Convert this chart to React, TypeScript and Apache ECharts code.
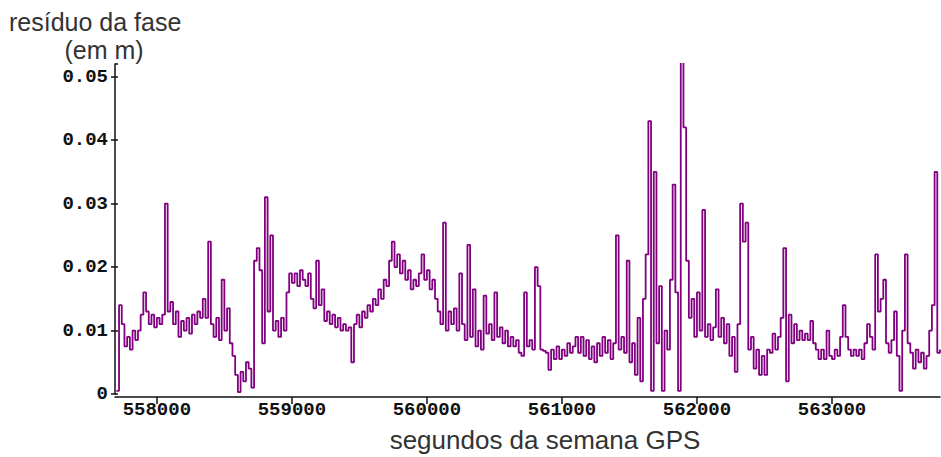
import React, { useEffect, useRef } from "react";
import * as echarts from "echarts";

// GPS seconds of week: first epoch and sampling step (s)
const startEpoch = 557700;
const epochStep = 20;

// phase residual, in millimetres, one value per epoch
const residualMm: number[] = [
  0.5, 14, 11, 7.5, 9, 7, 10, 8.5, 10, 12.5,
  16, 13, 11, 12.5, 10.5, 12, 11, 12.5, 30, 13,
  14.5, 11, 13, 9, 11.5, 10, 12, 9.5, 12.5, 11,
  13, 12, 15, 12, 24, 11, 9, 12, 8.5, 18,
  10, 13.5, 8, 6, 3, 0.3, 3.5, 2, 5, 4,
  1, 21, 23, 19.5, 8, 31, 13, 25, 10, 11.5,
  9, 12, 10, 16, 19, 17.5, 19, 17, 19.5, 18,
  17, 19, 15, 13.5, 21, 14, 16.5, 11.5, 13, 11,
  12.5, 10.5, 12, 10, 11, 10, 10.5, 5, 11, 12.5,
  10.5, 13, 12, 14, 13, 15, 14, 16.5, 15, 18,
  17, 21, 24, 20, 22, 19, 21, 18, 19.5, 16.5,
  18, 17, 19, 22, 18, 19.5, 16.5, 18, 15, 13,
  11, 27, 10, 13, 11, 13.5, 10, 19, 11, 8.5,
  23.5, 9, 16.5, 7.5, 10, 7, 15.5, 9.5, 11, 8.5,
  16, 9, 10.5, 8, 10, 7.5, 9, 7.5, 8.5, 6.5,
  6, 16, 7.5, 8.5, 7, 20, 17, 7, 6.8, 6.5,
  3.8, 7, 5.5, 7.5, 5.5, 7, 6, 8, 6.5, 7.5,
  9, 6.5, 9, 6, 8.5, 5.5, 7.5, 5, 8, 6,
  9, 6.5, 8.5, 5.5, 8, 25, 7, 9, 6.5, 21,
  5, 8, 3, 12, 2, 15, 22, 43, 0.5, 35,
  8, 17, 0.5, 10, 7, 18, 33, 16, 0.5, 53,
  42, 21, 12, 15, 9, 16, 10, 29, 9, 11,
  8.5, 10.5, 16.5, 9, 12, 8, 11, 6, 9, 3.5,
  11, 30, 24, 27, 7, 9, 4, 7, 3, 6,
  3, 7, 6.5, 9.5, 7, 9, 12, 23, 2, 12.5,
  8, 11, 8.5, 10, 8.5, 9.5, 8.5, 11.5, 8, 7,
  5.5, 7, 5.5, 10, 6, 5.5, 7, 6, 9, 14,
  9, 7, 6, 7, 6, 7, 5.5, 8, 11, 9,
  7, 22, 13, 15, 18, 8, 6.5, 8.5, 13, 6,
  0.5, 10, 22, 8, 6.5, 4, 7, 5, 6.5, 4,
  6, 10, 14, 35, 6.5, 7,
];

const yTickLabels: Record<string, string> = {
  "0": "0",
  "0.01": "0.01",
  "0.02": "0.02",
  "0.03": "0.03",
  "0.04": "0.04",
  "0.05": "0.05",
};

const yTitleLine1 = "resíduo da fase";
const yTitleLine2 = "(em m)";
const xTitle = "segundos da semana GPS";

export default function App() {
  const ref = useRef<HTMLDivElement>(null);

  useEffect(() => {
    if (!ref.current) return;
    const chart = echarts.init(ref.current, undefined, { renderer: "svg" });
    const data = residualMm.map((v, i) => [startEpoch + i * epochStep, v / 1000]);
    const labelFont = {
      fontFamily: "Liberation Mono",
      fontWeight: "bold" as const,
      fontSize: 19,
      color: "#111",
    };
    const yRange = { min: 0, max: 0.052, interval: 0.01 };
    chart.setOption({
      animation: false,
      backgroundColor: "#ffffff",
      grid: { left: 115, right: 1, top: 64, bottom: 63, containLabel: false },
      xAxis: {
        type: "value",
        min: 557690,
        max: 563800,
        offset: 3,
        splitLine: { show: false },
        axisLine: { onZero: false, lineStyle: { color: "#111", width: 1.5 } },
        axisTick: { length: 7, lineStyle: { color: "#111", width: 1.5 } },
        axisLabel: {
          ...labelFont,
          margin: 3,
          showMinLabel: false,
          showMaxLabel: false,
          formatter: (v: number) => String(v),
        },
      },
      yAxis: [
        {
          type: "value",
          ...yRange,
          splitLine: { show: false },
          axisLine: { show: true, lineStyle: { color: "#111", width: 1.5 } },
          axisTick: { show: true, length: 4, lineStyle: { color: "#111", width: 1.5 } },
          axisLabel: {
            ...labelFont,
            margin: 7,
            showMaxLabel: false,
            formatter: (v: number) => {
              const k = v === 0 ? "0" : v.toFixed(2);
              return yTickLabels[k] ?? k;
            },
          },
        },
        {
          type: "value",
          position: "left",
          ...yRange,
          splitLine: { show: false },
          axisLine: { show: false },
          axisTick: { show: true, inside: true, length: 3, lineStyle: { color: "#111", width: 1.5 } },
          axisLabel: { show: false },
        },
      ],
      series: [
        {
          type: "line",
          data,
          step: "end",
          showSymbol: false,
          symbol: "none",
          lineStyle: { color: "#800080", width: 1.8 },
        },
      ],
      graphic: [
        {
          type: "text",
          left: 9,
          top: 9,
          style: {
            text: yTitleLine1,
            fontFamily: "Liberation Sans",
            fontSize: 25,
            lineHeight: 25,
            fill: "#333",
          },
        },
        {
          type: "text",
          x: 104,
          y: 37,
          style: {
            text: yTitleLine2,
            fontFamily: "Liberation Sans",
            fontSize: 25,
            lineHeight: 25,
            fill: "#333",
            textAlign: "center",
            textVerticalAlign: "top",
          },
        },
        {
          type: "text",
          x: 545,
          y: 440,
          style: {
            text: xTitle,
            fontFamily: "Liberation Sans",
            fontSize: 26,
            fill: "#333",
            textAlign: "center",
            textVerticalAlign: "middle",
          },
        },
      ],
    });
    return () => chart.dispose();
  }, []);

  return (
    <div
      ref={ref}
      style={{ position: "fixed", left: 0, top: 0, width: 941, height: 457, background: "#fff" }}
    />
  );
}
